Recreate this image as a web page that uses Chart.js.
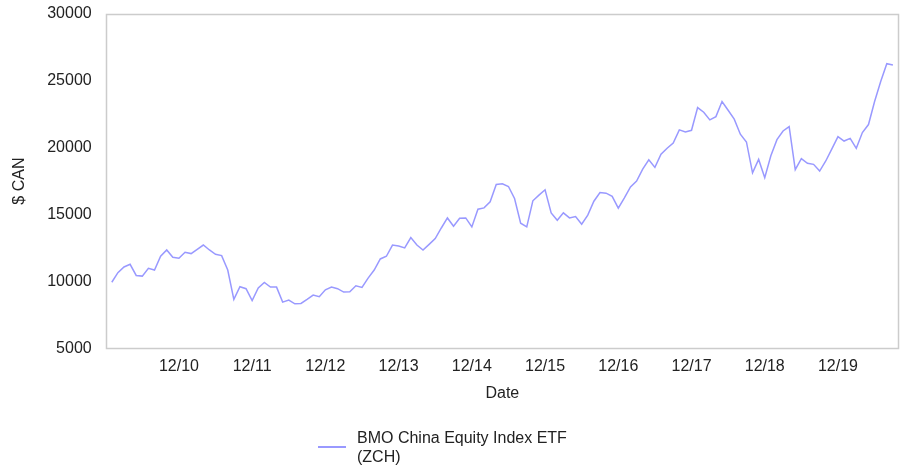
<!DOCTYPE html>
<html>
<head>
<meta charset="utf-8">
<title>BMO China Equity Index ETF (ZCH)</title>
<script src="https://cdn.jsdelivr.net/npm/chart.js@4.4.1/dist/chart.umd.min.js"></script>
<style>
  body { margin: 0; background: #fff; font-family: "Liberation Sans", Arial, sans-serif; }
  #wrap { position: relative; width: 902px; height: 470px; }
  #legend { position: absolute; left: 318px; top: 428px; display: flex; align-items: center; color: #222; font-size: 16px; line-height: 19px; }
  #legend .swatch { width: 28px; height: 0; border-top: 2px solid rgb(153,153,255); margin-right: 11px; }
</style>
</head>
<body>
<div id="wrap">
  <canvas id="myChart" width="902" height="470"></canvas>
  <div id="legend"></div>
</div>
<script>
'use strict'

// ---------------- data ----------------
const seriesName = ['BMO China Equity Index ETF', '(ZCH)'];
const firstYear = 2010;   // series starts 01/10, one value per month

const zchValues = [
  9950, 10670, 11090, 11290, 10460, 10410, 10990, 10860, 11890, 12360, 11810, 11740,
  12190, 12090, 12410, 12730, 12360, 12040, 11940, 10860, 8670, 9620, 9470, 8590,
  9520, 9940, 9590, 9590, 8470, 8620, 8340, 8370, 8670, 8990, 8870, 9390,
  9590, 9470, 9220, 9240, 9690, 9570, 10260, 10860, 11690, 11890, 12730, 12660,
  12510, 13290, 12730, 12360, 12780, 13210, 14000, 14750, 14130, 14730, 14750, 14080,
  15400, 15500, 15950, 17250, 17300, 17100, 16200, 14360, 14080, 16030, 16450, 16850,
  15130, 14580, 15130, 14750, 14860, 14280, 14960, 16000, 16650, 16600, 16360, 15480,
  16250, 17070, 17500, 18400, 19090, 18520, 19500, 19950, 20340, 21320, 21170, 21290,
  22990, 22640, 22070, 22310, 23440, 22790, 22120, 21000, 20420, 18120, 19120, 17750,
  19390, 20590, 21240, 21570, 18350, 19170, 18830, 18750, 18250, 19000, 19900, 20820,
  20490, 20690, 19950, 21120, 21720, 23440, 24930, 26260, 26160
];

const tickLabels = ['12/10', '12/11', '12/12', '12/13', '12/14', '12/15', '12/16', '12/17', '12/18', '12/19'];
const yTicks = [5000, 10000, 15000, 20000, 25000, 30000];

// month labels mm/yy for each value
const dates = [];
for (let i = 0; i < zchValues.length; i++) {
    let m = i % 12 + 1;
    let y = (firstYear + Math.floor(i / 12)) % 100;
    dates.push(String(m).padStart(2, '0') + '/' + String(y).padStart(2, '0'));
}

const points = zchValues.map((v, i) => ({ x: i, y: v }));
const tickIndex = tickLabels.map(t => dates.indexOf(t));

const textColor = '#222';
const font = { family: '"Liberation Sans", Arial, sans-serif', size: 16 };

// box around the plot area
const frame = {
    id: 'frame',
    afterDraw(chart) {
        const a = chart.chartArea;
        const ctx = chart.ctx;
        ctx.save();
        ctx.strokeStyle = '#cccccc';
        ctx.lineWidth = 1.5;
        ctx.strokeRect(Math.round(a.left) + 0.5, Math.round(a.top) + 0.5,
            Math.round(a.right - a.left) - 1, Math.round(a.bottom - a.top) - 1);
        ctx.restore();
    }
};

// legend written as html under the chart
const htmlLegend = {
    id: 'htmlLegend',
    afterUpdate(chart) {
        const box = document.getElementById('legend');
        box.innerHTML = '';
        chart.data.datasets.forEach(ds => {
            const sw = document.createElement('span');
            sw.className = 'swatch';
            sw.style.borderTopColor = ds.borderColor;
            const txt = document.createElement('span');
            txt.innerHTML = ds.label.join('<br>');
            box.appendChild(sw);
            box.appendChild(txt);
        });
    }
};

const ctx = document.getElementById('myChart').getContext('2d');
const myChart = new Chart(ctx, {
    type: 'line',
    data: {
        datasets: [{
            label: seriesName,
            data: points,
            borderColor: 'rgb(153,153,255)',
            borderWidth: 1.5,
            pointRadius: 0,
            fill: false,
            tension: 0
        }]
    },
    options: {
        responsive: false,
        animation: false,
        layout: { padding: { top: 6, right: 3, bottom: 67, left: 4 } },
        scales: {
            x: {
                type: 'linear',
                min: -1,
                max: zchValues.length,
                grid: { display: false, drawTicks: false },
                border: { display: false },
                afterBuildTicks: scale => { scale.ticks = tickIndex.map(v => ({ value: v })); },
                ticks: {
                    autoSkip: false,
                    maxRotation: 0,
                    padding: 8,
                    color: textColor,
                    font: font,
                    callback: v => dates[v]
                },
                title: { display: true, text: 'Date', color: textColor, font: font, padding: { top: 0, bottom: 0 } }
            },
            y: {
                min: 5000,
                max: 30000,
                grid: { display: false, drawTicks: true, tickLength: 10 },
                border: { display: false },
                afterBuildTicks: scale => { scale.ticks = yTicks.map(v => ({ value: v })); },
                ticks: { padding: 4, color: textColor, font: font, callback: v => String(v) },
                title: { display: true, text: '$ CAN', color: textColor, font: font, padding: { top: 6, bottom: 14 } }
            }
        },
        plugins: {
            legend: { display: false },
            tooltip: { enabled: false }
        }
    },
    plugins: [frame, htmlLegend]
});
</script>
</body>
</html>
